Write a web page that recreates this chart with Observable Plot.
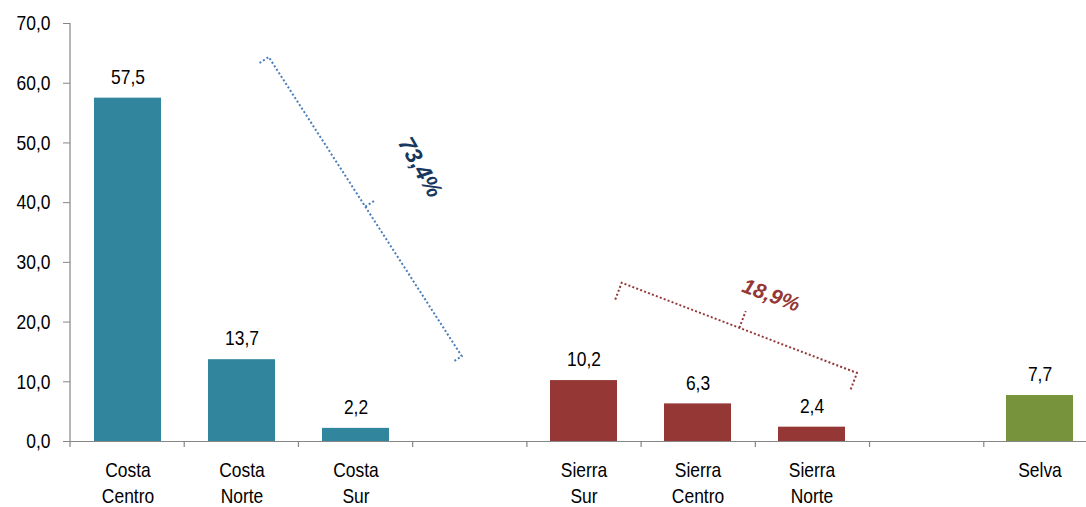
<!DOCTYPE html>
<html><head><meta charset="utf-8">
<script src="https://cdn.jsdelivr.net/npm/d3@7"></script>
<script src="https://cdn.jsdelivr.net/npm/@observablehq/plot@0.6"></script>
<style>body{margin:0;background:#fff} svg{display:block}</style>
</head><body><div id="chart"></div>
<script>
// categories (two-line labels); blank bands are gaps between groups
const categories = ["Costa\nCentro","Costa\nNorte","Costa\nSur","gap1","Sierra\nSur","Sierra\nCentro","Sierra\nNorte","gap2","Selva"];
const labels = ["Costa\nCentro","Costa\nNorte","Costa\nSur","","Sierra\nSur","Sierra\nCentro","Sierra\nNorte","","Selva"];
const values = [57.5, 13.7, 2.2, null, 10.2, 6.3, 2.4, null, 7.7];
const regions = ["Costa","Costa","Costa",null,"Sierra","Sierra","Sierra",null,"Selva"];
const yTicks = [0, 10, 20, 30, 40, 50, 60, 70];
const groupShares = ["73,4%", "18,9%"];

const fmt = v => v.toFixed(1).replace(".", ",");
const data = categories.map((c, i) => ({cat: c, label: labels[i], value: values[i], region: regions[i]}));
const bars = data.filter(d => d.value != null);

const chart = Plot.plot({
  width: 1086, height: 507,
  marginLeft: 70, marginRight: 0, marginTop: 23, marginBottom: 66,
  style: {fontFamily: "'Liberation Sans', Arial, sans-serif", fontSize: "21px", color: "#000", background: "#fff", overflow: "visible"},
  x: {domain: categories, range: [70, 1098], paddingInner: 0.41, paddingOuter: 0.205, axis: null},
  y: {domain: [0, 70]},
  color: {domain: ["Costa", "Sierra", "Selva"], range: ["#31859C", "#953735", "#77933C"]},
  marks: [
    Plot.axisY(yTicks, {tickFormat: fmt, tickSize: 7, tickPadding: 13, stroke: "#868686", label: null, fontSize: 21}),
    Plot.barY(bars, {x: "cat", y: "value", fill: "region"}),
    Plot.text(bars, {x: "cat", y: "value", text: d => fmt(d.value), dy: -21, fill: "#000", fontSize: 21}),
    Plot.text(data, {x: "cat", y: d => 0, text: "label", lineAnchor: "top", dy: 18, lineHeight: 1.2, fill: "#000", fontSize: 21}),
    Plot.ruleY([0], {stroke: "#868686", strokeWidth: 1.2})
  ]
});
document.getElementById("chart").appendChild(chart);

// condense the Arial-like glyphs horizontally (the reference uses a narrow face)
d3.select(chart).selectAll("text").each(function () {
  const spans = this.querySelectorAll("tspan");
  const els = spans.length ? Array.from(spans) : [this];
  for (const el of els) {
    const w = el.getComputedTextLength();
    if (w > 0) {
      el.setAttribute("textLength", (w * 0.83).toFixed(2));
      el.setAttribute("lengthAdjust", "spacingAndGlyphs");
    }
  }
});

// annotations built on the chart's own scales
const sx = chart.scale("x"), sy = chart.scale("y");
const r0 = sx.range[0], step = (sx.range[1] - sx.range[0]) / sx.domain.length;
const cx = (cat, off) => r0 + (sx.domain.indexOf(cat) + 0.5 + off) * step;
const svg = d3.select(chart);
const g = svg.append("g");
const y0 = sy.apply(0);
g.append("line").attr("x1", r0).attr("x2", r0).attr("y1", y0).attr("y2", sy.apply(70))
  .attr("stroke", "#868686").attr("stroke-width", 1.2);
for (let i = 0; i <= categories.length; i++) {
  const x = r0 + i * step;
  g.append("line").attr("x1", x).attr("x2", x).attr("y1", y0).attr("y2", y0 + 6)
    .attr("stroke", "#868686").attr("stroke-width", 1.2);
}

const brackets = [
  {from: ["Costa\nNorte", 0.24, 64.3], to: ["gap1", -0.07, 14.2], len: 11, text: groupShares[0], size: 23,
   at: ["Costa\nSur", 0.57, 45.9], angle: 60, stroke: "#4A7EBB", fill: "#17375E"},
  {from: ["Sierra\nSur", 0.33, 26.5], to: ["Sierra\nNorte", 0.39, 11.4], len: 18, text: groupShares[1], size: 21,
   at: ["Sierra\nNorte", -0.36, 24.5], angle: 20, stroke: "#953735", fill: "#953735"}
];
for (const b of brackets) {
  const x1 = cx(b.from[0], b.from[1]), y1 = sy.apply(b.from[2]);
  const x2 = cx(b.to[0], b.to[1]), y2 = sy.apply(b.to[2]);
  const L = Math.hypot(x2 - x1, y2 - y1), ux = (x2 - x1) / L, uy = (y2 - y1) / L;
  const nx = uy, ny = -ux;
  const mx = (x1 + x2) / 2, my = (y1 + y2) / 2;
  const p = `M${x1 - nx * b.len},${y1 - ny * b.len}L${x1},${y1}L${x2},${y2}L${x2 - nx * b.len},${y2 - ny * b.len}` +
            `M${mx},${my}L${mx + nx * b.len},${my + ny * b.len}`;
  g.append("path").attr("d", p).attr("fill", "none").attr("stroke", b.stroke)
    .attr("stroke-width", 2).attr("stroke-dasharray", "2 2.2");
  const tx = cx(b.at[0], b.at[1]), ty = sy.apply(b.at[2]);
  g.append("text").attr("transform", `translate(${tx},${ty}) rotate(${b.angle})`)
    .attr("text-anchor", "middle").attr("dy", "0.35em")
    .attr("font-family", "'Liberation Sans', Arial, sans-serif")
    .attr("font-size", b.size).attr("font-weight", "bold").attr("font-style", "italic")
    .attr("fill", b.fill).text(b.text);
}
</script></body></html>
